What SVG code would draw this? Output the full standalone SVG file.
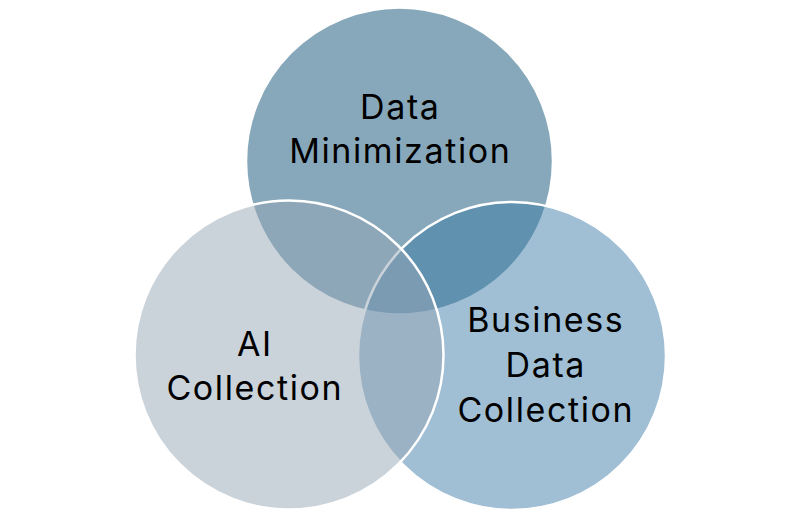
<svg xmlns="http://www.w3.org/2000/svg" width="800" height="519" viewBox="0 0 800 519">
  <style>
    .lbl { font-family: Inter, "Open Sans", "Liberation Sans", sans-serif; font-size: 34px; letter-spacing: 1.6px; fill: #000000; text-anchor: middle; }
    .c { stroke: #ffffff; stroke-width: 2.5; }
  </style>
  <rect width="800" height="519" fill="#ffffff"/>
  <g id="node-data-minimization">
    <circle class="c" cx="399.5" cy="161" r="153.5" fill="#87a8ba"/>
  </g>
  <g id="node-business-data-collection">
    <circle class="c" cx="512" cy="356" r="154" fill="#3577a4" fill-opacity="0.47"/>
  </g>
  <g id="node-ai-collection">
    <circle class="c" cx="289" cy="355" r="154.5" fill="#95a5b5" fill-opacity="0.5"/>
  </g>
  <g id="connectors"></g>
  <g id="labels">
    <text class="lbl" x="400.3" y="119">Data</text>
    <text class="lbl" x="400.3" y="163">Minimization</text>
    <text class="lbl" x="254.8" y="356">AI</text>
    <text class="lbl" x="254.8" y="400">Collection</text>
    <text class="lbl" x="545.8" y="332">Business</text>
    <text class="lbl" x="545.8" y="377">Data</text>
    <text class="lbl" x="545.8" y="422">Collection</text>
  </g>
</svg>
